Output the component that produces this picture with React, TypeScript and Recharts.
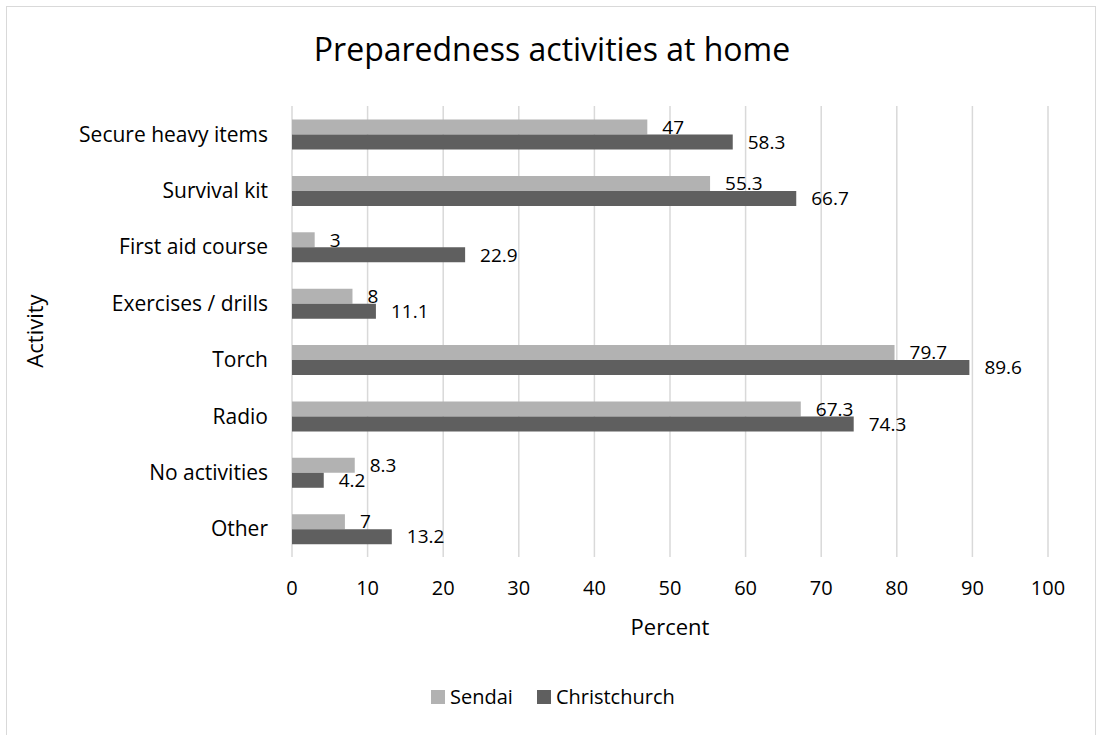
import React from "react"
import {
	BarChart,
	Bar,
	XAxis,
	YAxis,
	CartesianGrid,
	LabelList,
	Label,
} from "recharts"

const activities = [
	"Secure heavy items",
	"Survival kit",
	"First aid course",
	"Exercises / drills",
	"Torch",
	"Radio",
	"No activities",
	"Other",
]
const sendai = [47, 55.3, 3, 8, 79.7, 67.3, 8.3, 7]
const christchurch = [58.3, 66.7, 22.9, 11.1, 89.6, 74.3, 4.2, 13.2]
const percentTicks = [0, 10, 20, 30, 40, 50, 60, 70, 80, 90, 100]

const SENDAI_COLOR = "#b2b2b2"
const CHRISTCHURCH_COLOR = "#5f5f5f"
const FONT = "'Open Sans', sans-serif"

const data = activities.map((name, i) => ({
	name,
	Sendai: sendai[i],
	Christchurch: christchurch[i],
}))

const legendItems = [
	{ name: "Sendai", color: SENDAI_COLOR },
	{ name: "Christchurch", color: CHRISTCHURCH_COLOR },
]

// legend sits below the axis title, outside the svg so the plot keeps its height
const ChartLegend = () => (
	<div
		style={{
			position: "absolute",
			left: 431,
			top: 683,
			display: "flex",
			gap: 24,
			fontFamily: FONT,
			fontSize: 20,
			lineHeight: "28px",
			color: "#000",
		}}>
		{legendItems.map((item) => (
			<div key={item.name} style={{ display: "flex", alignItems: "center" }}>
				<span
					style={{
						display: "inline-block",
						width: 14,
						height: 14,
						background: item.color,
						marginRight: 5,
					}}
				/>
				{item.name}
			</div>
		))}
	</div>
)

const App = () => {
	return (
		<div
			style={{
				position: "absolute",
				left: 0,
				top: 0,
				width: 1098,
				height: 735,
				background: "#fff",
				overflow: "hidden",
			}}>
			<div
				style={{
					position: "absolute",
					left: 6,
					top: 6,
					width: 1088,
					height: 760,
					border: "1px solid #d9d9d9",
				}}
			/>
			<div
				style={{
					position: "absolute",
					left: 0,
					top: 27,
					width: 1104,
					textAlign: "center",
					fontFamily: FONT,
					fontSize: 32,
					color: "#000",
				}}>
				Preparedness activities at home
			</div>
			<BarChart
				width={1098}
				height={735}
				data={data}
				layout='vertical'
				barCategoryGap='24%'
				barGap={0}
				margin={{ top: 106, right: 50, left: 60, bottom: 148 }}
				style={{ position: "absolute", left: 0, top: 0 }}>
				<CartesianGrid horizontal={false} stroke='#d9d9d9' strokeWidth={1.5} />
				<XAxis
					type='number'
					domain={[0, 100]}
					ticks={percentTicks}
					axisLine={false}
					tickLine={false}
					tickMargin={18}
					height={30}
					tick={{ fill: "#000", fontSize: 20, fontFamily: FONT }}>
					<Label
						value='Percent'
						position='bottom'
						offset={32}
						style={{ fill: "#000", fontSize: 22, fontFamily: FONT }}
					/>
				</XAxis>
				<YAxis
					type='category'
					dataKey='name'
					width={232}
					axisLine={false}
					tickLine={false}
					tickMargin={18}
					tick={{ fill: "#000", fontSize: 21, fontFamily: FONT }}>
					<Label
						content={() => (
							<text
								x={34}
								y={331}
								transform='rotate(-90 34 331)'
								textAnchor='middle'
								dominantBaseline='central'
								fill='#000'
								fontSize={22}
								fontFamily={FONT}>
								Activity
							</text>
						)}
					/>
				</YAxis>
				<Bar dataKey='Sendai' fill={SENDAI_COLOR} isAnimationActive={false}>
					<LabelList
						dataKey='Sendai'
						position='right'
						offset={15}
						fill='#000'
						fontSize={19}
						fontFamily={FONT}
					/>
				</Bar>
				<Bar
					dataKey='Christchurch'
					fill={CHRISTCHURCH_COLOR}
					isAnimationActive={false}>
					<LabelList
						dataKey='Christchurch'
						position='right'
						offset={15}
						fill='#000'
						fontSize={19}
						fontFamily={FONT}
					/>
				</Bar>
			</BarChart>
			<ChartLegend />
		</div>
	)
}

export default App
